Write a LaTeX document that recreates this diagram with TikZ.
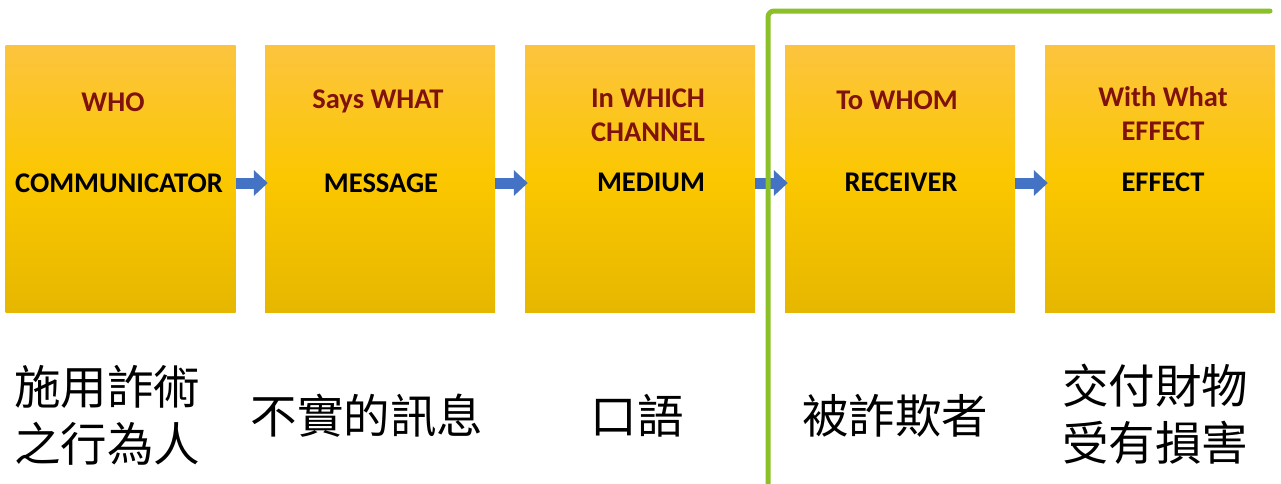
\documentclass[tikz,border=0pt]{standalone}
\usepackage{fontspec}
\setmainfont{Carlito}
\newfontfamily\cjk{Noto Sans CJK TC}
\usetikzlibrary{arrows.meta,calc}
\definecolor{boxtop}{RGB}{252,196,62}
\definecolor{boxmid}{RGB}{251,199,0}
\definecolor{boxbot}{RGB}{230,183,0}
\definecolor{titlered}{RGB}{128,18,14}
\definecolor{arrowblue}{RGB}{68,114,196}
\definecolor{linegreen}{RGB}{140,192,40}
\tikzset{
  stagebox/.style={minimum width=230pt,minimum height=267pt,inner sep=0pt,
    top color=boxtop,bottom color=boxbot,middle color=boxmid,draw=none},
  titletext/.style={font=\bfseries\fontsize{28.5}{34}\selectfont,text=titlered,align=center,inner sep=0pt},
  roletext/.style={font=\bfseries\fontsize{28.5}{34}\selectfont,text=black,inner sep=0pt},
  cjktext/.style={font=\cjk\fontsize{46.5}{57}\selectfont,text=black,align=center,inner sep=0pt},
  flowarrow/.style={draw=arrowblue,line width=11pt,-{Triangle[width=25pt,length=14pt]},shorten >=-3pt},
  divider/.style={draw=linegreen,line width=5pt,line cap=round,rounded corners=6pt}
}
\begin{document}
\begin{tikzpicture}[x=1pt,y=-1pt]
\useasboundingbox (0,0) rectangle (1281,483);
\node[stagebox] (b1) at (120.5,178.5) {};
\node[stagebox] (b2) at (380,178.5) {};
\node[stagebox] (b3) at (640,178.5) {};
\node[stagebox] (b4) at (900,178.5) {};
\node[stagebox] (b5) at (1160,178.5) {};
\node[titletext] (t1) at (113,102) {WHO};
\node[titletext] (t2) at (378,101) {Says WHAT};
\node[titletext] (t3) at (648,115) {In WHICH\\CHANNEL};
\node[titletext] (t4) at (897,100) {To WHOM};
\node[titletext] (t5) at (1163,114) {With What\\EFFECT};
\node[roletext] (r1) at (119,183) {COMMUNICATOR};
\node[roletext] (r2) at (381,183) {MESSAGE};
\node[roletext] (r3) at (651,182) {MEDIUM};
\node[roletext] (r4) at (901,182) {RECEIVER};
\node[roletext] (r5) at (1163,182) {EFFECT};
\draw[flowarrow] (b1.east |- r1) -- (b2.west |- r1);
\draw[flowarrow] (b2.east |- r1) -- (b3.west |- r1);
\draw[flowarrow] (b3.east |- r1) -- (b4.west |- r1);
\draw[flowarrow] (b4.east |- r1) -- (b5.west |- r1);
\node[cjktext] (c1) at (107,415) {施用詐術\\之行為人};
\node[cjktext] (c2) at (367,416) {不實的訊息};
\node[cjktext] (c3) at (637,416) {口語};
\node[cjktext] (c4) at (895,416) {被詐欺者};
\node[cjktext] (c5) at (1155,414) {交付財物\\受有損害};
\coordinate (gbot) at (768,490);
\coordinate (gcorner) at (768,11);
\coordinate (gend) at (1270,11);
\draw[divider] (gbot) -- (gcorner) -- (gend);
\end{tikzpicture}
\end{document}
